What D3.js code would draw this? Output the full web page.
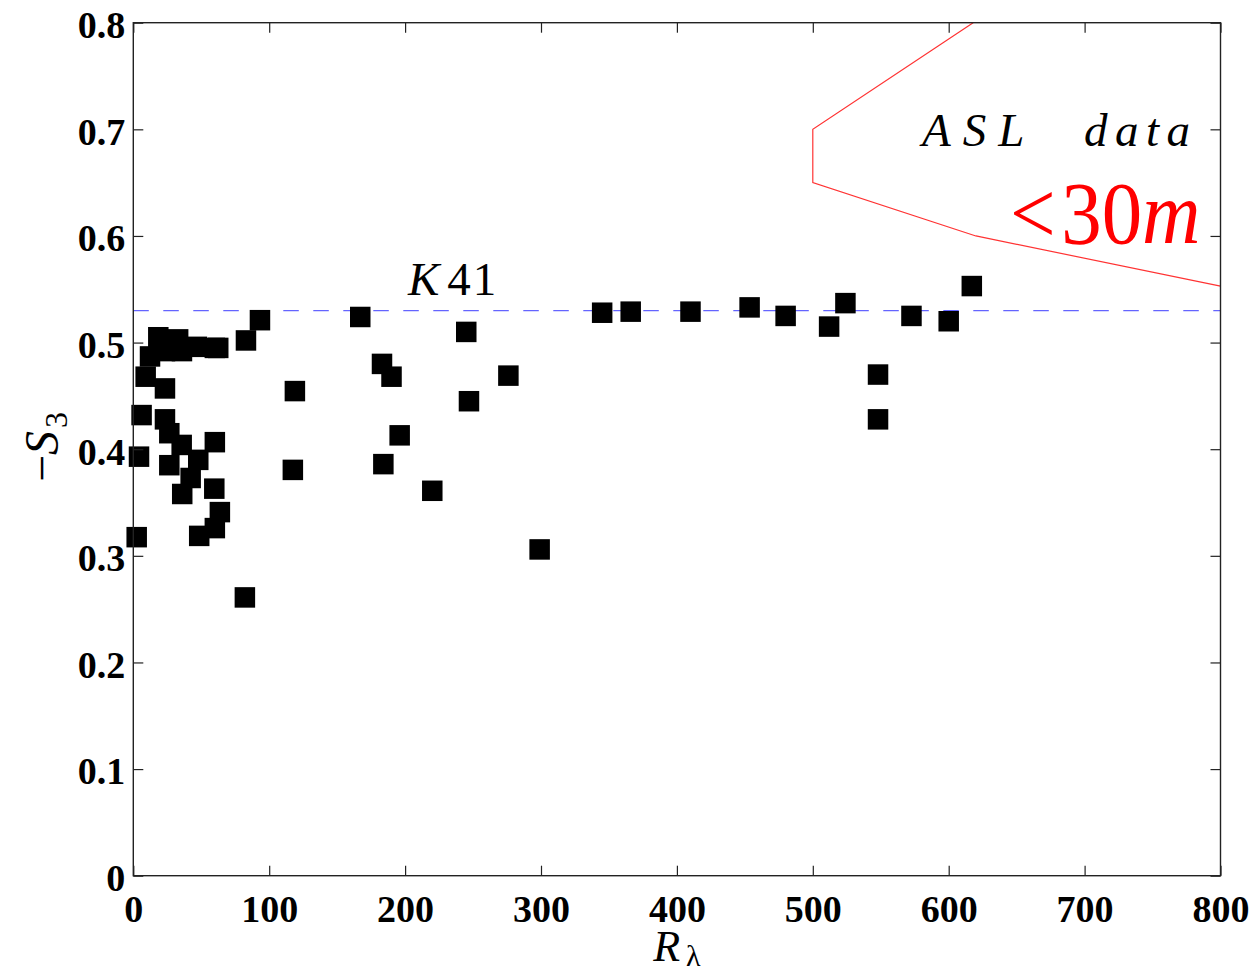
<!DOCTYPE html>
<html>
<head>
<meta charset="utf-8">
<script src="https://cdn.jsdelivr.net/npm/d3@7"></script>
<style>
  html, body { margin: 0; padding: 0; background: #fff; }
  svg { display: block; }
</style>
</head>
<body>
<svg id="chart" width="1259" height="977"></svg>
<script>
// ---- data ----
const rLambda = [18.4, 33, 12.3, 23.3, 35.8, 46.8, 60, 62.5,
  9.1, 23.3, 6.1, 23.3, 26.5, 35.6, 60, 4.2, 26.5, 47.8, 42.2, 36, 59.6, 63.7, 60, 48.5, 2.5, 82.1,
  93.2, 82.9, 118.9, 117.4,
  167, 245, 183, 190, 276, 247, 196, 184, 220, 299,
  345, 366, 410, 453.5, 480, 512, 524, 548, 548, 572.6, 600, 617];
const minusS3 = [0.505, 0.503, 0.487, 0.492, 0.492, 0.496, 0.495, 0.495,
  0.468, 0.457, 0.432, 0.428, 0.415, 0.404, 0.4066, 0.393, 0.385, 0.39, 0.373, 0.358, 0.363, 0.341, 0.326, 0.3187, 0.3175, 0.261,
  0.521, 0.502, 0.4545, 0.3806,
  0.524, 0.51, 0.48, 0.468, 0.469, 0.445, 0.413, 0.386, 0.361, 0.306,
  0.528, 0.529, 0.529, 0.533, 0.525, 0.515, 0.537, 0.47, 0.428, 0.525, 0.52, 0.553];
const k41Value = 0.53;
const aslX = [618, 500, 500, 620, 800];
const aslY = [0.8, 0.7, 0.65, 0.6, 0.553];
const xTicks = [0, 100, 200, 300, 400, 500, 600, 700, 800];
const yTicks = [0, 0.1, 0.2, 0.3, 0.4, 0.5, 0.6, 0.7, 0.8];

// ---- layout ----
const svg = d3.select("#chart");
const L = 133.3, R = 1220.5, T = 22.7, B = 875.7;
const x = d3.scaleLinear().domain([0, 800]).range([L, R]);
const y = d3.scaleLinear().domain([0, 0.8]).range([B, T]);

svg.append("defs").append("clipPath").attr("id", "clip")
  .append("rect").attr("x", L).attr("y", T).attr("width", R - L).attr("height", B - T);

const tickFont = "'Liberation Serif', 'Times New Roman', serif";

// K41 dashed line
svg.append("line")
  .attr("x1", x(0)).attr("x2", x(800))
  .attr("y1", y(k41Value)).attr("y2", y(k41Value))
  .attr("stroke", "#6464ff").attr("stroke-width", 1.3)
  .attr("stroke-dasharray", "15.5,14.5");

// ASL red polyline
const aslPts = aslX.map((d, i) => [d, aslY[i]]);
svg.append("path")
  .datum(aslPts)
  .attr("clip-path", "url(#clip)")
  .attr("d", d3.line().x(d => x(d[0])).y(d => y(d[1])))
  .attr("fill", "none").attr("stroke", "#ff3333").attr("stroke-width", 1.2);

// squares
const sz = 20.5;
svg.append("g").selectAll("rect")
  .data(rLambda.map((d, i) => [d, minusS3[i]]))
  .join("rect")
  .attr("x", d => x(d[0]) - sz / 2)
  .attr("y", d => y(d[1]) - sz / 2)
  .attr("width", sz).attr("height", sz)
  .attr("fill", "#000");

// axes
const fmtY = d => d === 0 ? "0" : d3.format(".1f")(d);
const gL = svg.append("g").attr("transform", `translate(${L},0)`)
  .call(d3.axisLeft(y).tickValues(yTicks).tickSize(-10).tickPadding(8).tickFormat(fmtY));
const gB = svg.append("g").attr("transform", `translate(0,${B})`)
  .call(d3.axisBottom(x).tickValues(xTicks).tickSize(-10).tickPadding(19).tickFormat(d3.format("d")));
const gT = svg.append("g").attr("transform", `translate(0,${T})`)
  .call(d3.axisTop(x).tickValues(xTicks).tickSize(-10).tickFormat(""));
const gR = svg.append("g").attr("transform", `translate(${R},0)`)
  .call(d3.axisRight(y).tickValues(yTicks).tickSize(-10).tickFormat(""));

[gL, gB, gT, gR].forEach(g => {
  g.select(".domain").remove();
  g.selectAll("line").attr("stroke", "#222").attr("stroke-width", 1.2);
  g.selectAll("text")
    .attr("font-family", tickFont).attr("font-weight", "bold")
    .attr("font-size", 38).attr("fill", "#000");
});
gL.selectAll("text").attr("dy", "0.39em");
gB.selectAll("text").attr("dy", "0.71em");

svg.append("rect")
  .attr("x", L).attr("y", T).attr("width", R - L).attr("height", B - T)
  .attr("fill", "none").attr("stroke", "#222").attr("stroke-width", 1.4);

// labels
const mathFont = "'Liberation Serif', 'DejaVu Serif', serif";
// x label R_lambda
const xl = svg.append("text")
  .attr("x", x(400)).attr("y", 961)
  .attr("text-anchor", "middle")
  .attr("font-family", mathFont).attr("font-size", 44).attr("fill", "#000");
xl.append("tspan").attr("font-style", "italic").text("R");
xl.append("tspan").attr("font-size", 30).attr("dy", 5).attr("dx", 6).text("λ");

// y label -S_3
const yl = svg.append("text")
  .attr("transform", `translate(58,447) rotate(-90)`)
  .attr("text-anchor", "middle")
  .attr("font-family", mathFont).attr("font-size", 48).attr("fill", "#000");
yl.append("tspan").text("−");
yl.append("tspan").attr("font-style", "italic").text("S");
yl.append("tspan").attr("font-size", 32).attr("dy", 9).attr("dx", 3).text("3");

// K41
const k = svg.append("text")
  .attr("x", 408).attr("y", 295)
  .attr("font-family", mathFont).attr("font-size", 47).attr("fill", "#000");
k.append("tspan").attr("font-style", "italic").text("K");
k.append("tspan").attr("dx", 8).attr("letter-spacing", 2).text("41");

// ASL data
svg.append("text")
  .attr("x", 922).attr("y", 146)
  .attr("font-family", mathFont).attr("font-size", 47).attr("font-style", "italic")
  .attr("letter-spacing", 12).attr("fill", "#000").text("ASL");
svg.append("text")
  .attr("x", 1084).attr("y", 146)
  .attr("font-family", mathFont).attr("font-size", 47).attr("font-style", "italic")
  .attr("letter-spacing", 7.5).attr("fill", "#000").text("data");

// <30m
const red = svg.append("g").attr("transform", "translate(1010,243) scale(0.92,1)");
const rt = red.append("text")
  .attr("x", 0).attr("y", 0)
  .attr("font-family", mathFont).attr("font-size", 88).attr("fill", "#ff0000");
rt.append("tspan").text("<");
rt.append("tspan").attr("dx", 6).text("30");
rt.append("tspan").attr("font-style", "italic").text("m");
</script>
</body>
</html>
